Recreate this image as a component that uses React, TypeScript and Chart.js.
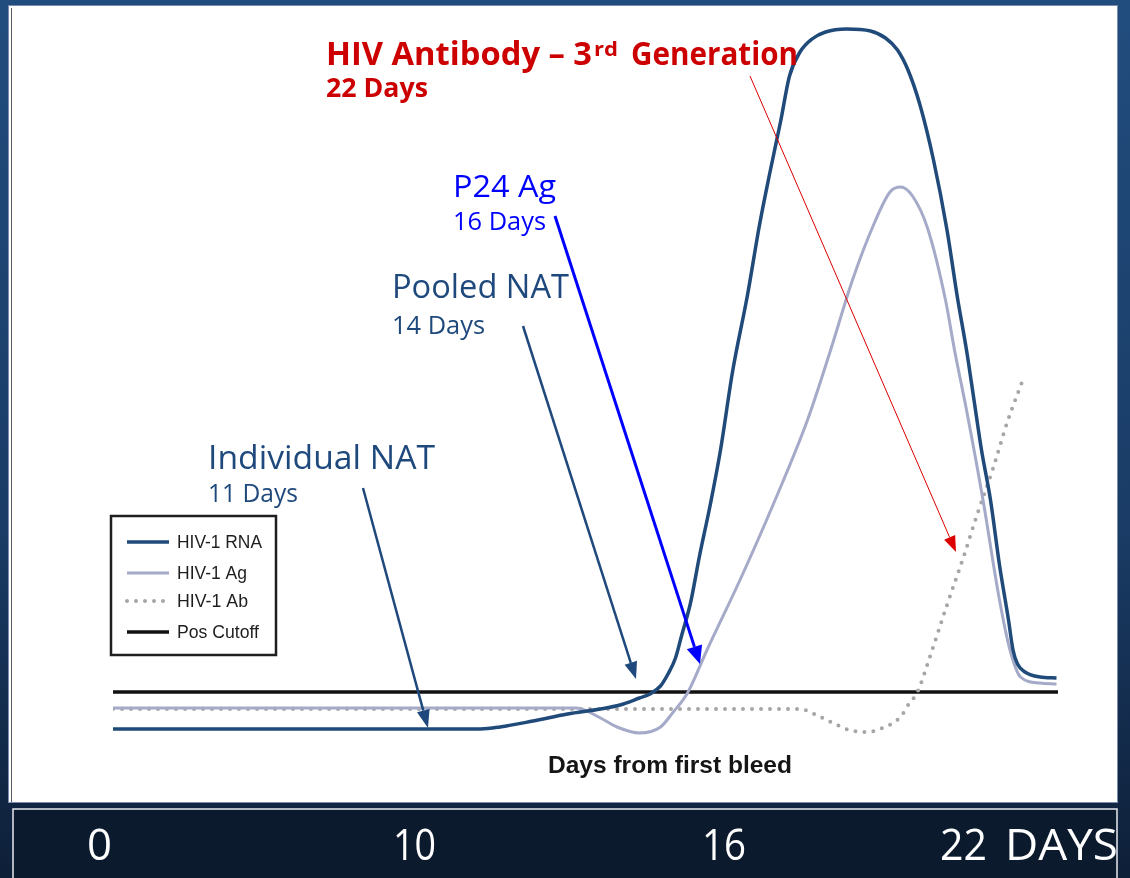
import React, { useEffect, useRef } from "react";
import { Chart, registerables } from "chart.js";

Chart.register(...registerables);

// ---------- DATA (arbitrary day/level units) ----------
const seriesLabels = ["HIV-1 RNA", "HIV-1 Ag", "HIV-1 Ab", "Pos Cutoff"];

const rnaDays = [0, 24.5, 25.8, 28, 30.3, 32.5, 33.8, 35.1, 35.8, 36.5, 37, 37.5, 37.9, 38.5, 39.1, 39.8, 40.5, 41.3, 42.3, 43.1, 43.8, 44.5, 45.1, 45.8, 46.6, 47.5, 48.9, 50.5, 51.5, 52.3, 53, 53.8, 54.7, 55.6, 56.3, 56.9, 57.4, 57.9, 58.5, 59.1, 59.7, 60, 60.3, 60.8, 61.8, 62.9];
const rnaLevel = [2.6, 2.6, 3, 4.2, 5.6, 6.6, 7.4, 8.8, 9.6, 11.2, 13.6, 16.8, 21.2, 27.8, 37.2, 47.2, 58.4, 74, 89.4, 103.4, 114, 124, 133.2, 138, 140.6, 142, 142.6, 142.2, 140.8, 138.4, 134.4, 127.4, 116.4, 102.4, 88.8, 78.4, 68.4, 58.4, 48.4, 35.4, 24.4, 18.4, 15.6, 14, 13, 12.8];

const agDays = [0, 30.9, 32.5, 33.6, 35.1, 36.5, 37.3, 38.3, 39.6, 41.8, 44, 46.3, 47.8, 49.3, 50.7, 51.8, 52.5, 53.3, 54.3, 55.5, 56.1, 56.9, 58, 59.1, 59.8, 60.5, 61.8, 62.9];
const agLevel = [6.8, 6.8, 4.8, 3, 1.8, 3, 5.8, 9.8, 18.4, 32.4, 47.4, 64.4, 78, 92.4, 103.4, 110, 111, 109.2, 102.8, 88.4, 78.4, 66.4, 48.4, 28.4, 18.4, 13, 11.8, 11.6];

const abDays = [0, 45.8, 46.9, 48, 49.1, 50.3, 51.3, 52.5, 53.1, 53.6, 54.5, 55.6, 56.7, 57.6, 58.7, 59.6, 60.7];
const abLevel = [6.6, 6.6, 5.4, 3.8, 2.4, 2, 2.8, 5, 7.8, 9.8, 17.4, 27.4, 37, 45.4, 55, 63.8, 72.8];

const cutoffDays = [0, 63];
const cutoffLevel = [10, 10];

const bottomLabels = ["0", "10", "16", "22", "DAYS"];
const xAxisTitle = "Days from first bleed";
const abTitle = ["HIV Antibody – 3", "rd", "Generation"];
const abDaysText = "22 Days";
const p24Text = ["P24 Ag", "16 Days"];
const pooledText = ["Pooled NAT", "14 Days"];
const individualText = ["Individual NAT", "11 Days"];

// ---------- helpers ----------
const COMIC = '"Comic Sans MS", "Open Sans", "DejaVu Sans", sans-serif';
const ARIAL = '"Liberation Sans", Arial, sans-serif';

function fitText(
  ctx: CanvasRenderingContext2D,
  text: string,
  x: number,
  y: number,
  font: string,
  color: string,
  width?: number
) {
  ctx.save();
  ctx.font = font;
  ctx.fillStyle = color;
  ctx.textBaseline = "alphabetic";
  ctx.textAlign = "left";
  if (width) {
    const w = ctx.measureText(text).width;
    ctx.translate(x, y);
    ctx.scale(width / w, 1);
    ctx.fillText(text, 0, 0);
  } else {
    ctx.fillText(text, x, y);
  }
  ctx.restore();
}

function arrow(
  ctx: CanvasRenderingContext2D,
  x1: number,
  y1: number,
  x2: number,
  y2: number,
  color: string,
  lw: number,
  headLen: number,
  headW: number
) {
  const ang = Math.atan2(y2 - y1, x2 - x1);
  const bx = x2 - headLen * Math.cos(ang);
  const by = y2 - headLen * Math.sin(ang);
  ctx.save();
  ctx.strokeStyle = color;
  ctx.fillStyle = color;
  ctx.lineWidth = lw;
  ctx.lineCap = "butt";
  ctx.beginPath();
  ctx.moveTo(x1, y1);
  ctx.lineTo(bx, by);
  ctx.stroke();
  const px = -Math.sin(ang) * headW / 2;
  const py = Math.cos(ang) * headW / 2;
  ctx.beginPath();
  ctx.moveTo(x2, y2);
  ctx.lineTo(bx + px, by + py);
  ctx.lineTo(bx - px, by - py);
  ctx.closePath();
  ctx.fill();
  ctx.restore();
}

const backgroundPlugin = {
  id: "slideBackground",
  beforeDraw(chart: any) {
    const ctx: CanvasRenderingContext2D = chart.ctx;
    const W = chart.width;
    const H = chart.height;
    ctx.save();
    const g = ctx.createLinearGradient(0, 0, 0, H);
    g.addColorStop(0, "#214d7e");
    g.addColorStop(0.6, "#1a3c66");
    g.addColorStop(1, "#0e1f38");
    ctx.fillStyle = g;
    ctx.fillRect(0, 0, W, H);
    // white panel
    ctx.fillStyle = "#ffffff";
    ctx.fillRect(8, 5, 1110, 798);
    ctx.strokeStyle = "#7a8cad";
    ctx.lineWidth = 1;
    ctx.strokeRect(8.5, 5.5, 1109, 797);
    ctx.strokeStyle = "#555c66";
    ctx.beginPath();
    ctx.moveTo(11.5, 8);
    ctx.lineTo(11.5, 802);
    ctx.stroke();
    // bottom bar
    ctx.fillStyle = "#0c1a2d";
    ctx.fillRect(12, 808, 1106, 72);
    ctx.strokeStyle = "#e8ecf2";
    ctx.lineWidth = 1.5;
    ctx.beginPath();
    ctx.moveTo(13, 880);
    ctx.lineTo(13, 809);
    ctx.lineTo(1117, 809);
    ctx.lineTo(1117, 880);
    ctx.stroke();
    const bf = `400 44px ${COMIC}`;
    fitText(ctx, bottomLabels[0], 87, 860, bf, "#ffffff", 25);
    fitText(ctx, bottomLabels[1], 393, 860, bf, "#ffffff", 43);
    fitText(ctx, bottomLabels[2], 702, 860, bf, "#ffffff", 44);
    fitText(ctx, bottomLabels[3], 940, 860, bf, "#ffffff", 47);
    fitText(ctx, bottomLabels[4], 1005, 860, bf, "#ffffff", 113);
    ctx.restore();
  },
};

const overlayPlugin = {
  id: "slideOverlay",
  afterDraw(chart: any) {
    const ctx: CanvasRenderingContext2D = chart.ctx;
    ctx.save();
    // axis title
    fitText(ctx, xAxisTitle, 548, 773, `700 24px ${ARIAL}`, "#151515", 244);

    // legend box
    ctx.fillStyle = "#ffffff";
    ctx.fillRect(111, 516, 165, 139);
    ctx.strokeStyle = "#1e1e1e";
    ctx.lineWidth = 2.5;
    ctx.strokeRect(111, 516, 165, 139);
    const rowY = [542, 573, 601, 632];
    const baseY = [548, 579, 607, 638];
    const lblW = [85, 70, 71, 82];
    const ds = chart.data.datasets;
    for (let i = 0; i < ds.length; i++) {
      const d = ds[i];
      ctx.save();
      ctx.strokeStyle = d.borderColor;
      ctx.lineWidth = d.borderWidth;
      ctx.lineCap = d.borderCapStyle || "butt";
      ctx.setLineDash(d.borderDash || []);
      ctx.beginPath();
      ctx.moveTo(127, rowY[i]);
      ctx.lineTo(169, rowY[i]);
      ctx.stroke();
      ctx.restore();
      fitText(ctx, d.label, 177, baseY[i], `400 18px ${ARIAL}`, "#1e1e1e", lblW[i]);
    }

    // annotations: HIV antibody (red)
    const red = "#cc0000";
    fitText(ctx, abTitle[0], 326, 65, `700 32px ${COMIC}`, red, 266);
    fitText(ctx, abTitle[1], 594, 56, `700 20px ${COMIC}`, red, 24);
    fitText(ctx, abTitle[2], 631, 65, `700 32px ${COMIC}`, red, 167);
    fitText(ctx, abDaysText, 326, 97, `700 26px ${COMIC}`, red, 102);
    arrow(ctx, 750, 76, 956, 552, "#dd0000", 1, 16, 12);

    // P24 Ag (blue)
    const blue = "#0000ff";
    fitText(ctx, p24Text[0], 453, 197, `400 31px ${COMIC}`, blue, 103);
    fitText(ctx, p24Text[1], 453, 230, `400 26px ${COMIC}`, blue, 93);
    arrow(ctx, 555, 216, 700, 664, blue, 3, 18, 16);

    // Pooled NAT
    const navy = "#1f497d";
    fitText(ctx, pooledText[0], 392, 298, `400 32px ${COMIC}`, navy, 177);
    fitText(ctx, pooledText[1], 392, 334, `400 26px ${COMIC}`, navy, 93);
    arrow(ctx, 523, 326, 636, 679, navy, 2.5, 17, 13);

    // Individual NAT
    fitText(ctx, individualText[0], 208, 469, `400 32px ${COMIC}`, navy, 227);
    fitText(ctx, individualText[1], 208, 502, `400 26px ${COMIC}`, navy, 90);
    arrow(ctx, 363, 488, 428, 728, navy, 2.5, 18, 13);
    ctx.restore();
  },
};

function pts(xs: number[], ys: number[]) {
  return xs.map((x, i) => ({ x, y: ys[i] }));
}

export default function App() {
  const ref = useRef<HTMLCanvasElement>(null);
  useEffect(() => {
    const canvas = ref.current;
    if (!canvas) return;
    const chart = new Chart(canvas, {
      type: "line",
      data: {
        datasets: [
          {
            label: seriesLabels[0],
            data: pts(rnaDays, rnaLevel),
            borderColor: "#1f4a7a",
            borderWidth: 3.5,
            cubicInterpolationMode: "monotone",
            pointRadius: 0,
            fill: false,
            order: 0,
          },
          {
            label: seriesLabels[1],
            data: pts(agDays, agLevel),
            borderColor: "#a5aac9",
            borderWidth: 3,
            cubicInterpolationMode: "monotone",
            pointRadius: 0,
            fill: false,
            order: 1,
          },
          {
            label: seriesLabels[2],
            data: pts(abDays, abLevel),
            borderColor: "#a6a6a6",
            borderWidth: 4,
            borderDash: [0, 9],
            borderCapStyle: "round",
            cubicInterpolationMode: "monotone",
            pointRadius: 0,
            fill: false,
            order: 2,
          },
          {
            label: seriesLabels[3],
            data: pts(cutoffDays, cutoffLevel),
            borderColor: "#111111",
            borderWidth: 3.5,
            pointRadius: 0,
            fill: false,
            order: 3,
          },
        ],
      } as any,
      options: {
        responsive: false,
        maintainAspectRatio: false,
        animation: false,
        layout: { padding: { left: 113, right: 72, top: 17, bottom: 136 } },
        plugins: {
          legend: { display: false },
          tooltip: { enabled: false },
          title: { display: false },
        },
        scales: {
          x: { type: "linear", min: 0, max: 63, display: false },
          y: { type: "linear", min: 0, max: 145, display: false },
        },
      } as any,
      plugins: [backgroundPlugin, overlayPlugin],
    });
    return () => chart.destroy();
  }, []);
  return (
    <div style={{ position: "absolute", left: 0, top: 0, width: 1130, height: 878 }}>
      <canvas ref={ref} width={1130} height={878} style={{ display: "block", width: 1130, height: 878 }} />
    </div>
  );
}
